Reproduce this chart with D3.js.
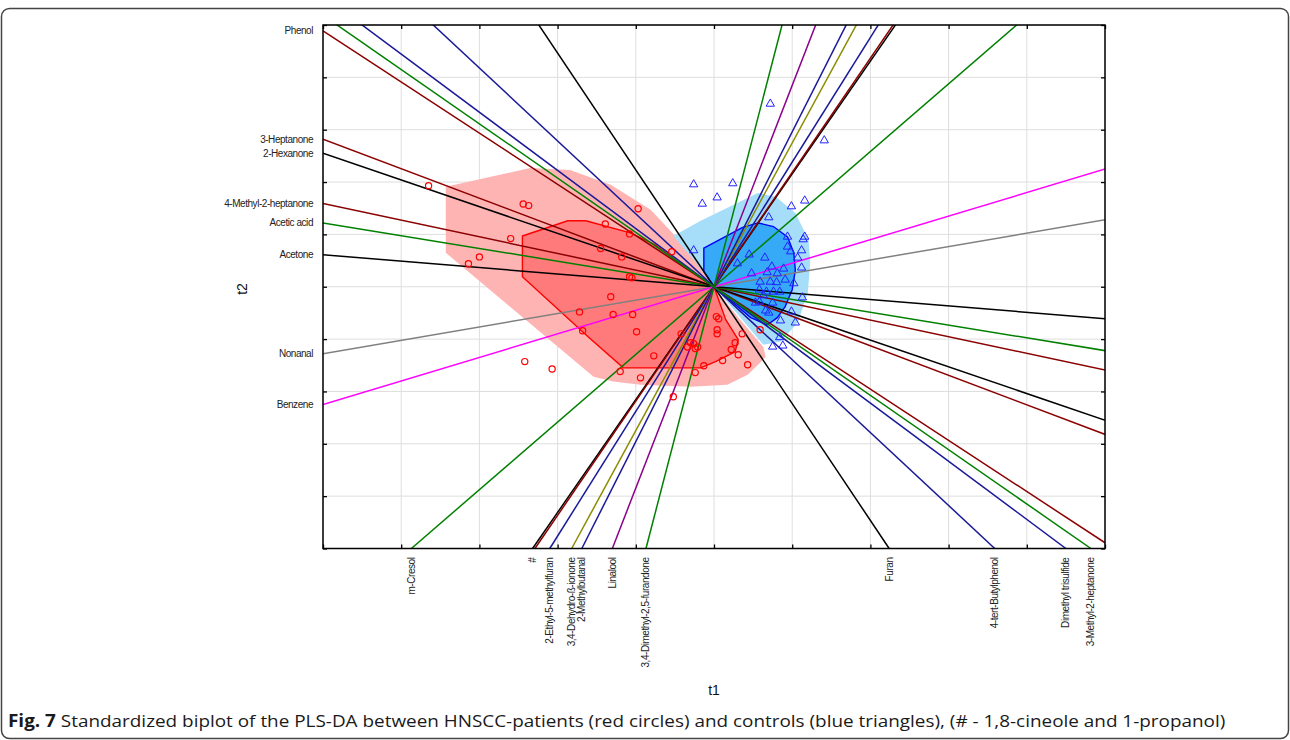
<!DOCTYPE html>
<html>
<head>
<meta charset="utf-8">
<script src="https://cdn.jsdelivr.net/npm/d3@7/dist/d3.min.js"></script>
<style>
body { margin: 0; background: #fff; }
svg { display: block; }
.lbl { font-family: "Liberation Sans", Arial, sans-serif; font-size: 10px; letter-spacing: -0.45px; fill: #222; }
.ttl { font-family: "Liberation Sans", Arial, sans-serif; font-size: 14px; fill: #111; }
.cap { font-family: "Open Sans", "Noto Sans", sans-serif; font-size: 17px; fill: #1a1a1a; }
</style>
</head>
<body>
<svg id="chart" width="1290" height="740"></svg>
<script>
// variable lines: labelled end of each loading line (t1, t2), other end is mirrored through 0
const varNames = ["Phenol", "3-Heptanone", "2-Hexanone", "4-Methyl-2-heptanone", "Acetic acid", "Acetone", "Nonanal", "Benzene",
                  "m-Cresol", "#", "", "2-Ethyl-5-methylfuran", "3,4-Dehydro-ß-ionone", "2-Methylbutanal", "Linalool",
                  "3,4-Dimethyl-2,5-furandone", "Furan", "4-tert-Butylphenol", "Dimethyl trisulfide", "3-Methyl-2-heptanone"];
const varT1 = [-5, -5, -5, -5, -5, -5, -5, -5,
               -3.87, -2.32, -2.29, -2.10, -1.82, -1.69, -1.30, -0.87, 2.24, 3.59, 4.50, 4.82];
const varT2 = [4.89, 2.82, 2.55, 1.59, 1.22, 0.61, -1.28, -2.25,
               -5, -5, -5, -5, -5, -5, -5, -5, -5, -5, -5, -5];
const varColors = ["#8b0000", "#8b0000", "#000000", "#8b0000", "#008000", "#000000", "#808080", "#ff00ff",
                   "#008000", "#000000", "#8b0000", "#1a1a99", "#8c8c00", "#1a1a99", "#8b008b",
                   "#008000", "#000000", "#1a1a99", "#1a1a99", "#008000"];

// HNSCC patients (red circles)
const patientsT1 = [-3.65, -2.44, -2.37, -0.97, -1.39, -1.08, -2.60, -1.45, -0.54, -1.18, -3.00, -3.14, -1.08, -1.05, -1.32,
                    -1.72, -1.29, -1.04, -1.68, -0.99, -0.42, 0.03, 0.06, 0.04, 0.04, 0.36, 0.59, -0.34, -0.30, -0.26,
                    -0.21, -0.24, 0.27, 0.22, 0.31, -0.77, 0.43, 0.11, -0.13, -0.24, -2.42, -2.07, -1.20, -0.94, -0.52];
const patientsT2 = [1.93, 1.58, 1.55, 1.49, 1.20, 1.01, 0.92, 0.73, 0.67, 0.57, 0.57, 0.44, 0.19, 0.17, -0.19,
                    -0.48, -0.53, -0.53, -0.84, -0.86, -0.90, -0.57, -0.61, -0.82, -0.90, -0.90, -0.82, -1.15, -1.07, -1.09,
                    -1.15, -1.18, -1.07, -1.20, -1.30, -1.32, -1.49, -1.41, -1.51, -1.64, -1.43, -1.57, -1.62, -1.74, -2.10];

// controls (blue triangles)
const controlsT1 = [0.72, 1.41, -0.26, 0.24, 0.04, -0.15, 1.16, 0.99, 0.70, 0.94, 1.16, 1.14, 0.94, 0.98, 1.12, -0.26,
                    0.45, 0.65, 1.07, 1.12, 0.30, 0.74, 0.89, 0.81, 0.48, 0.68, 0.59, 0.72, 0.80, 0.91, 1.02, 0.58,
                    0.67, 0.76, 0.84, 0.63, 0.58, 0.75, 1.13, 0.53, 0.66, 0.70, 0.99, 0.85, 1.04, 0.84, 0.75, 0.88];
const controlsT2 = [3.51, 2.81, 1.97, 1.99, 1.72, 1.60, 1.66, 1.55, 1.34, 0.97, 0.97, 0.92, 0.78, 0.69, 0.71, 0.71,
                    0.63, 0.57, 0.57, 0.38, 0.46, 0.40, 0.36, 0.27, 0.27, 0.29, 0.11, 0.11, 0.10, 0.15, 0.08, -0.04,
                    -0.08, -0.08, -0.08, -0.15, -0.27, -0.29, -0.19, -0.29, -0.44, -0.48, -0.46, -0.63, -0.67, -0.95, -1.13, -1.11];

// group regions
const patientsOuter = [[-3.43, 1.91], [-2.35, 2.27], [-1.84, 2.23], [-1.32, 1.95], [-0.81, 1.47], [-0.45, 0.90], [-0.11, 0.29],
                       [0, 0], [0.30, -0.57], [0.63, -1.15], [0.66, -1.34], [0.59, -1.45], [0.43, -1.68], [0.17, -1.87],
                       [-0.30, -1.91], [-0.94, -1.87], [-1.29, -1.81], [-1.54, -1.72], [-3.43, 0.65]];
const patientsInner = [[-2.45, 0.97], [-1.87, 1.26], [-1.64, 1.26], [-1.07, 1.03], [-0.75, 0.80], [-0.36, 0.36], [0, 0],
                       [0.15, -0.63], [0.31, -1.01], [0.27, -1.24], [0.02, -1.43], [-0.17, -1.55], [-1.16, -1.55],
                       [-1.60, -0.97], [-2.45, 0.19]];
const controlsOuter = [[-0.52, 0.97], [-0.17, 1.26], [0.56, 1.79], [0.79, 1.72], [1.04, 1.41], [1.21, 0.90], [1.23, 0.46],
                       [1.20, -0.11], [1.07, -0.69], [0.85, -1.05], [0.63, -1.11], [0.34, -0.59], [0, 0], [-0.24, 0.48]];
const controlsInner = [[-0.13, 0.74], [0.36, 1.13], [0.56, 1.22], [0.76, 1.15], [0.94, 0.95], [1.02, 0.65], [1.04, 0.32],
                       [1.00, -0.06], [0.91, -0.38], [0.81, -0.59], [0.68, -0.73], [0.47, -0.59], [0, 0], [-0.13, 0.29]];

const gridValues = d3.range(-5, 5.01, 1);

const svg = d3.select("#chart");
const plot = {left: 323, top: 25, right: 1105, bottom: 548.5};

let x = d3.scaleLinear().domain([-5, 5]).range([plot.left, plot.right]);
let y = d3.scaleLinear().domain([-5, 5]).range([plot.bottom, plot.top]);

// outer frame of the figure
svg.append("rect")
    .attr("x", 1.5).attr("y", 8.5)
    .attr("width", 1287).attr("height", 730)
    .attr("rx", 8)
    .attr("fill", "none")
    .attr("stroke", "#444")
    .attr("stroke-width", 1.5);

svg.append("clipPath").attr("id", "clip")
    .append("rect")
    .attr("x", plot.left).attr("y", plot.top)
    .attr("width", plot.right - plot.left).attr("height", plot.bottom - plot.top);

// grid
svg.append("g")
    .selectAll("line.gx")
    .data(gridValues)
    .join("line")
    .attr("x1", d => x(d)).attr("x2", d => x(d))
    .attr("y1", plot.top).attr("y2", plot.bottom)
    .attr("stroke", "#dedede").attr("stroke-width", 1);
svg.append("g")
    .selectAll("line.gy")
    .data(gridValues)
    .join("line")
    .attr("y1", d => y(d)).attr("y2", d => y(d))
    .attr("x1", plot.left).attr("x2", plot.right)
    .attr("stroke", "#dedede").attr("stroke-width", 1);

const g = svg.append("g").attr("clip-path", "url(#clip)");
const hull = d3.line().x(d => x(d[0])).y(d => y(d[1])).curve(d3.curveLinearClosed);

g.append("path").attr("d", hull(patientsOuter)).attr("fill", "#ffb4b4");
g.append("path").attr("d", hull(controlsOuter)).attr("fill", "#a6def9");
g.append("path").attr("d", hull(patientsInner)).attr("fill", "#ff7a7a")
    .attr("stroke", "#ff0000").attr("stroke-width", 1.4);
g.append("path").attr("d", hull(controlsInner)).attr("fill", "#36a9f7")
    .attr("stroke", "#0000ff").attr("stroke-width", 1.4);

// loading lines through the origin
const vars = varNames.map((n, i) => ({name: n, t1: varT1[i], t2: varT2[i], color: varColors[i]}));
g.selectAll("line.var")
    .data(vars)
    .join("line")
    .attr("class", "var")
    .attr("x1", d => x(d.t1)).attr("y1", d => y(d.t2))
    .attr("x2", d => x(-3 * d.t1)).attr("y2", d => y(-3 * d.t2))
    .attr("stroke", d => d.color)
    .attr("stroke-width", 1.5);

// points
g.selectAll("circle.pat")
    .data(patientsT1.map((v, i) => [v, patientsT2[i]]))
    .join("circle")
    .attr("cx", d => x(d[0])).attr("cy", d => y(d[1]))
    .attr("r", 3.1)
    .attr("fill", "none")
    .attr("stroke", "#ff0000")
    .attr("stroke-width", 1.2);

const tri = d3.symbol(d3.symbolTriangle).size(30);
g.selectAll("path.ctl")
    .data(controlsT1.map((v, i) => [v, controlsT2[i]]))
    .join("path")
    .attr("d", tri)
    .attr("transform", d => `translate(${x(d[0])},${y(d[1]) + 0.8})`)
    .attr("fill", "none")
    .attr("stroke", "#2323ff")
    .attr("stroke-width", 1);

// axes with inward ticks
const ax = svg.append("g");
ax.append("g").attr("transform", `translate(${plot.left},0)`)
    .call(d3.axisLeft(y).tickValues(gridValues).tickSize(-4).tickFormat(""));
ax.append("g").attr("transform", `translate(${plot.right},0)`)
    .call(d3.axisRight(y).tickValues(gridValues).tickSize(-4).tickFormat(""));
ax.append("g").attr("transform", `translate(0,${plot.top})`)
    .call(d3.axisTop(x).tickValues(gridValues).tickSize(-4).tickFormat(""));
ax.append("g").attr("transform", `translate(0,${plot.bottom})`)
    .call(d3.axisBottom(x).tickValues(gridValues).tickSize(-4).tickFormat(""));
ax.selectAll(".domain").remove();
ax.selectAll(".tick line").attr("stroke", "#000").attr("stroke-width", 1.3);

svg.append("rect")
    .attr("x", plot.left).attr("y", plot.top)
    .attr("width", plot.right - plot.left).attr("height", plot.bottom - plot.top)
    .attr("fill", "none").attr("stroke", "#000").attr("stroke-width", 1.5);

// line labels
svg.selectAll("text.left")
    .data(vars.filter(d => d.t1 === -5 && d.name))
    .join("text")
    .attr("class", "lbl")
    .attr("x", plot.left - 10)
    .attr("y", d => y(d.t2))
    .attr("dy", "0.35em")
    .attr("text-anchor", "end")
    .text(d => d.name);

svg.selectAll("text.bottom")
    .data(vars.filter(d => d.t1 !== -5 && d.name))
    .join("text")
    .attr("class", "lbl")
    .attr("transform", d => `translate(${x(d.t1) + 3.5},${plot.bottom + 9}) rotate(-90)`)
    .attr("text-anchor", "end")
    .text(d => d.name);

svg.append("text").attr("class", "ttl")
    .attr("transform", "translate(247,289) rotate(-90)")
    .attr("text-anchor", "middle")
    .text("t2");
svg.append("text").attr("class", "ttl")
    .attr("x", (plot.left + plot.right) / 2).attr("y", 695)
    .attr("text-anchor", "middle")
    .text("t1");

// caption, squeezed to the width of the original line
const cap = svg.append("text").attr("class", "cap").attr("x", 0).attr("y", 0);
cap.append("tspan").attr("font-weight", "bold").text("Fig. 7");
cap.append("tspan").text(" Standardized biplot of the PLS-DA between HNSCC-patients (red circles) and controls (blue triangles), (# - 1,8-cineole and 1-propanol)");
const capLen = cap.node().getComputedTextLength();
cap.attr("transform", `translate(8,727) scale(${1218 / capLen},1)`);
</script>
</body>
</html>
